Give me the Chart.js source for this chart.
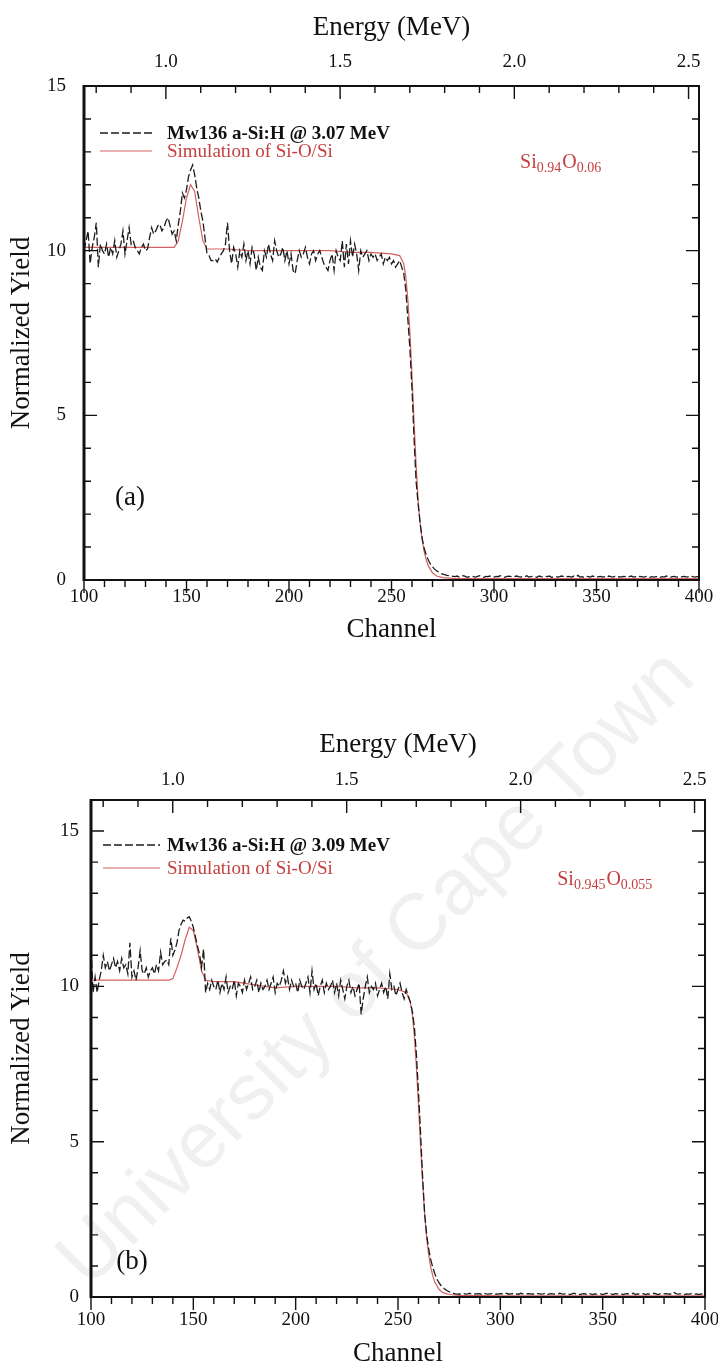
<!DOCTYPE html>
<html>
<head>
<meta charset="utf-8">
<script src="https://cdn.jsdelivr.net/npm/chart.js@4.4.0/dist/chart.umd.min.js"></script>
<style>
  body { margin: 0; background: #fff; }
  #page { position: relative; width: 718px; height: 1370px; overflow: hidden; background: #fff; }
  canvas { position: absolute; left: 0; }
  #mark {
    position: absolute; left: 374px; top: 966px;
    transform: translate(-50%, -50%) rotate(-45deg);
    font: 80px "Liberation Sans", sans-serif; color: rgba(0, 0, 0, 0.06);
    white-space: nowrap; pointer-events: none;
  }
</style>
</head>
<body>
<div id="page">
  <div id="mark">University of Cape Town</div>
  <canvas id="chartA" width="718" height="685" style="top:0"></canvas>
  <canvas id="chartB" width="718" height="685" style="top:685px"></canvas>
</div>
<script>
// spectra are one value per channel, starting at channel 100
const channelStart = 100;
const channelLabels = [100, 150, 200, 250, 300, 350, 400];
const energyLabels = [1.0, 1.5, 2.0, 2.5];
const energyTicks = [0.8, 0.9, 1.0, 1.1, 1.2, 1.3, 1.4, 1.5, 1.6, 1.7, 1.8, 1.9, 2.0, 2.1, 2.2, 2.3, 2.4, 2.5];
const yieldLabels = [0, 5, 10, 15];
const energyRange = [0.765, 2.53];   // top axis, MeV at channel 100 and 400

// (a) Mw136 a-Si:H @ 3.07 MeV
const yieldA = [
  10.0, 10.3, 10.6, 9.6, 10.1, 10.4, 10.85, 9.5, 10.2, 10.0, 9.9, 10.2, 9.8, 10.1, 9.9, 10.3, 9.8, 10.0, 10.2, 10.6,
  9.9, 10.3, 10.7, 10.2, 10.3, 10.1, 10.0, 9.9, 10.1, 10.2, 10.0, 10.05, 10.4, 10.7, 10.5, 10.6, 10.75, 10.8, 10.6, 10.7,
  10.9, 11.0, 10.75, 10.5, 10.6, 10.3, 10.8, 11.2, 11.75, 11.6, 11.85, 12.25, 12.45, 12.6, 12.3, 11.9, 11.6, 11.2, 10.9, 10.4,
  9.9, 9.85, 9.7, 9.7, 9.75, 9.65, 9.8, 9.9, 10.0, 10.2, 10.85, 10.0, 9.6, 10.1, 9.9, 9.5, 10.0, 9.8, 10.2, 9.7,
  10.0, 9.6, 10.1, 9.9, 9.4, 9.8, 9.5, 9.4, 10.0, 9.8, 10.2, 9.9, 9.7, 10.3, 10.0, 9.8, 9.9, 10.1, 9.7, 10.0,
  9.6, 9.9, 9.4, 9.3, 9.7, 10.0, 9.8, 9.9, 10.1, 9.8, 9.6, 9.9, 10.0, 9.7, 9.9, 10.0, 9.8, 9.6, 9.5, 9.4,
  9.7, 9.9, 9.4, 10.0, 9.8, 9.7, 10.3, 9.5, 10.2, 9.6, 10.3, 9.8, 10.2, 9.9, 9.4, 10.0, 9.8, 9.9, 10.0, 9.7,
  9.9, 9.8, 9.9, 9.7, 9.8, 9.9, 9.6, 9.8, 9.7, 9.8, 9.6, 9.7, 9.5, 9.6, 9.7, 9.5, 9.3, 8.8, 7.9, 7.0,
  5.8, 4.3, 3.0, 2.3, 1.7, 1.25, 0.95, 0.75, 0.6, 0.48, 0.4, 0.33, 0.28, 0.24, 0.2, 0.18, 0.16, 0.14, 0.13, 0.12,
  0.11, 0.1, 0.12, 0.09, 0.1, 0.13, 0.11, 0.08, 0.1, 0.12, 0.1, 0.09, 0.11, 0.13, 0.1, 0.08, 0.11, 0.1, 0.12, 0.1,
  0.09, 0.11, 0.1, 0.13, 0.1, 0.08, 0.1, 0.12, 0.11, 0.09, 0.1, 0.12, 0.1, 0.09, 0.11, 0.1, 0.13, 0.09, 0.1, 0.11,
  0.1, 0.08, 0.12, 0.1, 0.09, 0.11, 0.1, 0.12, 0.08, 0.1, 0.11, 0.09, 0.1, 0.12, 0.1, 0.08, 0.11, 0.1, 0.09, 0.12,
  0.1, 0.14, 0.09, 0.1, 0.08, 0.11, 0.1, 0.09, 0.12, 0.1, 0.08, 0.1, 0.11, 0.09, 0.1, 0.08, 0.12, 0.1, 0.09, 0.11,
  0.08, 0.1, 0.09, 0.11, 0.1, 0.08, 0.1, 0.12, 0.09, 0.1, 0.08, 0.11, 0.1, 0.09, 0.1, 0.12, 0.08, 0.1, 0.09, 0.1,
  0.11, 0.08, 0.1, 0.09, 0.12, 0.1, 0.08, 0.1, 0.11, 0.09, 0.1, 0.08, 0.1, 0.11, 0.09, 0.1, 0.12, 0.1, 0.09, 0.1, 0.1
];
const simChannelsA = [100, 110, 120, 130, 140, 144, 146, 148, 150, 152, 154, 156, 158, 160, 170, 180, 190, 200, 210, 220,
  230, 240, 250, 254, 256, 257, 258, 259, 260, 261, 262, 263, 264, 265, 266, 267, 268, 270, 272, 275, 280, 300, 400];
const simYieldA = [10.1, 10.1, 10.1, 10.1, 10.1, 10.1, 10.3, 10.9, 11.6, 12.0, 11.8, 11.0, 10.3, 10.05, 10.05, 10.0, 10.0, 10.0, 10.0, 10.0,
  9.95, 9.95, 9.9, 9.85, 9.6, 9.2, 8.5, 7.5, 6.2, 4.8, 3.5, 2.4, 1.7, 1.2, 0.85, 0.6, 0.42, 0.22, 0.12, 0.07, 0.05, 0.04, 0.04];

// (b) Mw136 a-Si:H @ 3.09 MeV
const yieldB = [
  11.2, 9.8, 10.3, 9.8, 10.2, 10.5, 11.0, 10.6, 10.8, 10.5, 10.7, 10.9, 10.6, 10.8, 10.5, 10.9, 10.6, 10.7, 10.4, 11.4,
  10.3, 10.5, 10.2, 10.6, 11.15, 10.5, 10.4, 10.6, 10.3, 10.5, 10.6, 10.4, 10.7, 10.5, 11.1, 10.7, 10.8, 10.85, 10.7, 11.55,
  11.0, 11.17, 11.4, 11.8, 12.0, 12.13, 12.1, 12.2, 12.24, 12.1, 11.9, 11.6, 11.3, 11.05, 10.6, 11.2, 9.8, 10.1, 9.9, 10.2,
  10.0, 9.9, 10.2, 9.8, 10.1, 9.9, 10.3, 9.8, 10.0, 9.9, 10.2, 9.7, 10.1, 10.0, 9.8, 10.2, 9.9, 10.1, 10.3, 9.9,
  10.0, 10.2, 9.8, 10.1, 9.9, 10.0, 10.2, 9.9, 10.1, 10.3, 9.8, 10.1, 10.0, 10.2, 10.5, 10.1, 10.3, 9.9, 10.2, 10.0,
  10.1, 9.8, 10.2, 10.0, 9.9, 10.1, 10.3, 9.8, 10.5, 9.9, 10.1, 9.7, 10.0, 10.2, 9.8, 10.1, 9.9, 10.0, 10.2, 9.8,
  10.1, 9.7, 10.2, 9.9, 9.6, 10.0, 10.2, 9.8, 10.0, 9.7, 9.9, 10.1, 9.1, 9.6, 10.0, 10.3, 9.8, 10.0, 9.9, 10.1,
  9.7, 9.9, 10.1, 9.8, 10.0, 9.6, 10.4, 9.9, 10.0, 9.7, 9.9, 10.1, 9.8, 9.6, 9.9, 9.7, 9.5, 9.2, 8.7, 7.8,
  6.6, 5.3, 3.9, 2.7, 2.0, 1.55, 1.2, 0.95, 0.75, 0.58, 0.46, 0.37, 0.3, 0.25, 0.2, 0.17, 0.14, 0.12, 0.1, 0.09,
  0.1, 0.08, 0.11, 0.09, 0.1, 0.12, 0.08, 0.1, 0.09, 0.11, 0.1, 0.08, 0.12, 0.1, 0.09, 0.1, 0.11, 0.08, 0.1, 0.09,
  0.11, 0.1, 0.08, 0.12, 0.09, 0.1, 0.11, 0.08, 0.1, 0.09, 0.12, 0.1, 0.08, 0.1, 0.11, 0.09, 0.1, 0.08, 0.11, 0.1,
  0.09, 0.1, 0.12, 0.08, 0.1, 0.11, 0.09, 0.1, 0.08, 0.12, 0.1, 0.09, 0.11, 0.1, 0.08, 0.1, 0.12, 0.09, 0.1, 0.08,
  0.1, 0.11, 0.09, 0.12, 0.1, 0.08, 0.1, 0.09, 0.11, 0.1, 0.08, 0.1, 0.12, 0.09, 0.1, 0.08, 0.11, 0.1, 0.09, 0.1,
  0.08, 0.1, 0.11, 0.09, 0.1, 0.12, 0.08, 0.1, 0.09, 0.1, 0.11, 0.08, 0.1, 0.09, 0.1, 0.12, 0.1, 0.08, 0.1, 0.09,
  0.1, 0.11, 0.09, 0.1, 0.08, 0.14, 0.1, 0.09, 0.1, 0.11, 0.08, 0.1, 0.09, 0.1, 0.11, 0.09, 0.1, 0.08, 0.1, 0.09, 0.1
];
const simChannelsB = [100, 110, 120, 130, 138, 140, 142, 144, 146, 148, 150, 152, 154, 156, 160, 170, 180, 190, 200, 210,
  220, 230, 240, 250, 254, 256, 257, 258, 259, 260, 261, 262, 263, 264, 265, 266, 267, 268, 270, 272, 275, 280, 300, 400];
const simYieldB = [10.2, 10.2, 10.2, 10.2, 10.2, 10.25, 10.6, 11.0, 11.5, 11.9, 11.8, 11.2, 10.5, 10.2, 10.15, 10.15, 10.05, 9.95, 10.0, 10.0,
  10.0, 9.95, 9.95, 9.9, 9.8, 9.5, 9.1, 8.4, 7.4, 6.2, 4.9, 3.7, 2.7, 1.9, 1.35, 0.95, 0.68, 0.48, 0.25, 0.14, 0.08, 0.05, 0.04, 0.04];

const serif = '"Liberation Serif", "Times New Roman", serif';
const black = '#1c1c1c';
const red = 'rgb(214, 96, 96)';
const redText = 'rgb(196, 64, 64)';

function sameValue(list, v) {
  return list.some(e => Math.abs(e - v) < 1e-6);
}

// ticks, frame, legend and notes drawn on top of the library's scales
const decorations = {
  id: 'decorations',
  afterDraw(chart, args, o) {
    const {ctx, chartArea: a, scales} = chart;
    ctx.save();
    ctx.strokeStyle = '#111';
    ctx.lineWidth = 1.4;
    ctx.beginPath();
    scales.x.ticks.forEach(t => {
      const p = scales.x.getPixelForValue(t.value);
      const l = t.value % 50 === 0 ? 13 : 7;
      ctx.moveTo(p, a.bottom); ctx.lineTo(p, a.bottom + l);
    });
    scales.x2.ticks.forEach(t => {
      const p = scales.x2.getPixelForValue(t.value);
      const l = sameValue(energyLabels, t.value) ? 13 : 7;
      ctx.moveTo(p, a.top); ctx.lineTo(p, a.top + l);
    });
    scales.y.ticks.forEach(t => {
      const p = scales.y.getPixelForValue(t.value);
      const l = t.value % 5 === 0 ? 13 : 7;
      ctx.moveTo(a.left, p); ctx.lineTo(a.left + l, p);
      ctx.moveTo(a.right, p); ctx.lineTo(a.right - l, p);
    });
    ctx.stroke();

    ctx.lineWidth = 2;
    ctx.beginPath();
    ctx.moveTo(a.left, a.top); ctx.lineTo(a.right, a.top); ctx.lineTo(a.right, a.bottom); ctx.lineTo(a.left, a.bottom);
    ctx.stroke();
    ctx.lineWidth = 3;
    ctx.beginPath();
    ctx.moveTo(a.left, a.top - 1); ctx.lineTo(a.left, a.bottom + 1);
    ctx.stroke();

    // legend
    const ds = chart.data.datasets;
    o.legendRows.forEach((y, i) => {
      ctx.strokeStyle = ds[i].borderColor;
      ctx.lineWidth = ds[i].borderWidth;
      ctx.setLineDash(ds[i].borderDash || []);
      ctx.beginPath();
      ctx.moveTo(o.legendLine[0], y); ctx.lineTo(o.legendLine[1], y);
      ctx.stroke();
      ctx.setLineDash([]);
      ctx.fillStyle = i === 0 ? '#111' : redText;
      ctx.font = (i === 0 ? 'bold ' : '') + '19px ' + serif;
      ctx.textBaseline = 'middle';
      ctx.fillText(ds[i].label, o.legendText, y + 1);
    });

    // composition note
    let x = scales.x.getPixelForValue(o.formula.at[0]);
    const y = scales.y.getPixelForValue(o.formula.at[1]);
    ctx.fillStyle = redText;
    ctx.textBaseline = 'alphabetic';
    o.formula.parts.forEach(([txt, sub]) => {
      ctx.font = (sub ? '14px ' : '20px ') + serif;
      ctx.fillText(txt, x, sub ? y + 4 : y);
      x += ctx.measureText(txt).width + (sub ? 1 : 0);
    });

    // panel tag
    ctx.fillStyle = '#111';
    ctx.font = '27px ' + serif;
    ctx.textAlign = 'center';
    ctx.textBaseline = 'middle';
    ctx.fillText(o.panel.text, scales.x.getPixelForValue(o.panel.at[0]), scales.y.getPixelForValue(o.panel.at[1]));
    ctx.restore();
  }
};

function points(xs, ys) {
  return ys.map((v, i) => ({x: xs[i], y: v}));
}

function spectrum(ys) {
  return ys.map((v, i) => ({x: channelStart + i, y: v}));
}

function makeChart(id, c) {
  const tickFont = {family: serif, size: 19};
  const titleFont = {family: serif, size: 27};
  const noGrid = {display: false, drawTicks: false};
  const fixSize = (key, size) => scale => {
    scale[key] = size;
    scale.paddingLeft = 0; scale.paddingRight = 0; scale.paddingTop = 0; scale.paddingBottom = 0;
  };
  return new Chart(document.getElementById(id), {
    type: 'line',
    data: {
      datasets: [{
        label: c.runLabel,
        data: spectrum(c.measured),
        borderColor: black,
        borderWidth: 1.3,
        borderDash: [8, 3],
        pointRadius: 0,
        tension: 0
      }, {
        label: 'Simulation of Si-O/Si',
        data: points(c.simX, c.simY),
        borderColor: red,
        borderWidth: 1.2,
        pointRadius: 0,
        tension: 0
      }]
    },
    options: {
      responsive: false,
      animation: false,
      devicePixelRatio: 1,
      layout: {padding: c.pad},
      plugins: {
        legend: {display: false},
        tooltip: {enabled: false},
        decorations: c.deco
      },
      scales: {
        x: {
          type: 'linear', position: 'bottom', min: 100, max: 400,
          grid: noGrid, border: {display: false},
          ticks: {
            stepSize: 10, autoSkip: false, maxRotation: 0, minRotation: 0,
            padding: c.bottomTickPad, font: tickFont, color: '#111',
            callback: v => sameValue(channelLabels, v) ? String(v) : ''
          },
          title: {display: true, text: 'Channel', font: titleFont, color: '#111', padding: 0},
          afterFit: fixSize('height', c.bottomH)
        },
        x2: {
          type: 'linear', position: 'top', min: energyRange[0], max: energyRange[1],
          grid: noGrid, border: {display: false},
          afterBuildTicks: scale => { scale.ticks = energyTicks.map(v => ({value: v})); },
          ticks: {
            autoSkip: false, maxRotation: 0, minRotation: 0,
            padding: c.topTickPad, font: tickFont, color: '#111',
            callback: v => sameValue(energyLabels, v) ? v.toFixed(1) : ''
          },
          title: {display: true, text: 'Energy (MeV)', font: titleFont, color: '#111', padding: 0},
          afterFit: fixSize('height', c.topH)
        },
        y: {
          type: 'linear', position: 'left', min: 0, max: c.yMax,
          grid: noGrid, border: {display: false},
          ticks: {
            stepSize: 1, autoSkip: false, padding: c.yTickPad, font: tickFont, color: '#111',
            callback: v => sameValue(yieldLabels, v) ? String(v) : ''
          },
          title: {display: true, text: 'Normalized Yield', font: titleFont, color: '#111', padding: 0},
          afterFit: fixSize('width', c.yWidth)
        }
      }
    },
    plugins: [decorations]
  });
}

makeChart('chartA', {
  runLabel: 'Mw136 a-Si:H @ 3.07 MeV',
  measured: yieldA, simX: simChannelsA, simY: simYieldA,
  yMax: 15,
  pad: {left: 6, right: 19, top: 12, bottom: 39},
  yWidth: 78, topH: 74, bottomH: 66,
  topTickPad: 13, bottomTickPad: 6, yTickPad: 18,
  deco: {
    legendRows: [133, 151], legendLine: [100, 152], legendText: 167,
    formula: {at: [312.7, 12.5], parts: [['Si', false], ['0.94', true], ['O', false], ['0.06', true]]},
    panel: {text: '(a)', at: [122.4, 2.5]}
  }
});

makeChart('chartB', {
  runLabel: 'Mw136 a-Si:H @ 3.09 MeV',
  measured: yieldB, simX: simChannelsB, simY: simYieldB,
  yMax: 16,
  pad: {left: 6, right: 13, top: 44, bottom: 0},
  yWidth: 85, topH: 71, bottomH: 73,
  topTickPad: 9, bottomTickPad: 12, yTickPad: 12,
  deco: {
    legendRows: [160, 183], legendLine: [103, 160], legendText: 167,
    formula: {at: [327.8, 13.26], parts: [['Si', false], ['0.945', true], ['O', false], ['0.055', true]]},
    panel: {text: '(b)', at: [120, 1.13]}
  }
});
</script>
</body>
</html>
